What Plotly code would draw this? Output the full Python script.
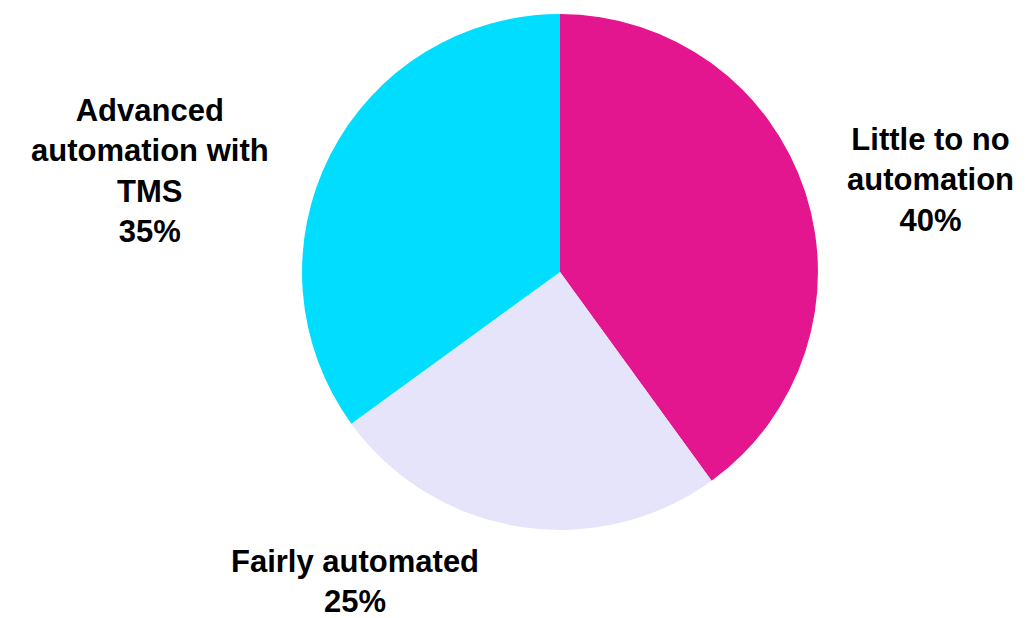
import plotly.graph_objects as go

categories = ["Little to no<br>automation", "Fairly automated", "Advanced<br>automation with<br>TMS"]
values = [40, 25, 35]
colors = ["#E4168F", "#E6E4FA", "#00DDFF"]
label_pos = [(0.8943, 0.7217), (0.3366, 0.0712), (0.1377, 0.7362)]

fig = go.Figure(go.Pie(
    labels=categories,
    values=values,
    sort=False,
    direction="clockwise",
    rotation=0,
    marker=dict(colors=colors, line=dict(width=0)),
    textinfo="none",
    hoverinfo="label+percent",
    domain=dict(x=[0.2852, 0.7856], y=[0.1553, 0.9903]),
    showlegend=False,
))

total = sum(values)
for cat, v, (x, y) in zip(categories, values, label_pos):
    fig.add_annotation(
        x=x, y=y, xref="paper", yref="paper",
        text=f"<b>{cat}<br>{round(100 * v / total)}%</b>",
        showarrow=False, xanchor="center", yanchor="middle",
        font=dict(family="Liberation Sans, Arial, sans-serif", size=31, color="#000000"),
        align="center",
    )

fig.update_layout(
    width=1031, height=618,
    margin=dict(l=0, r=0, t=0, b=0),
    paper_bgcolor="white", plot_bgcolor="white",
)
fig.write_html("out.html")
